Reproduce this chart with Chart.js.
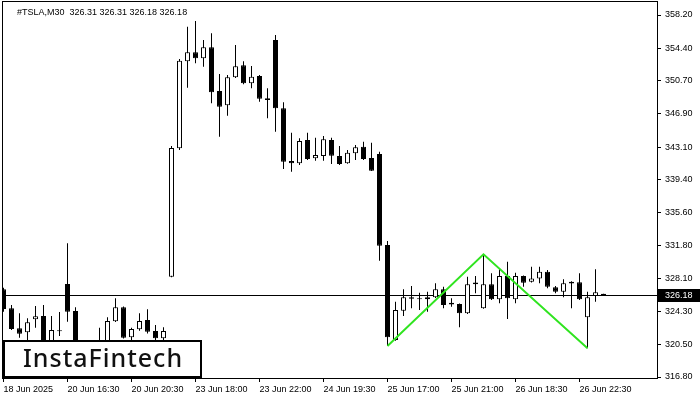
<!DOCTYPE html>
<html>
<head>
<meta charset="utf-8">
<script src="https://cdn.jsdelivr.net/npm/chart.js@4.4.1/dist/chart.umd.min.js"></script>
<style>
  html, body { margin: 0; padding: 0; background: #fff; }
  canvas { display: block; }
</style>
</head>
<body>
<canvas id="chart" width="700" height="400"></canvas>
<script>
// Datos de velas M30
const symbolTitle = '#TSLA,M30  326.31 326.31 326.18 326.18';
const opens = [326.83, 324.66, 322.37, 321.91, 323.40, 323.77, 320.80, 322.06, 327.43, 324.35,
  320.70, 320.00, 320.50, 320.80, 323.17, 324.77, 321.34, 322.25, 323.32, 322.06,
  321.22, 328.27, 342.96, 352.90, 353.93, 353.25, 354.51, 349.51, 347.87, 351.07,
  352.45, 350.39, 351.22, 348.67, 355.34, 347.53, 341.50, 341.24, 343.90, 341.81,
  342.07, 343.90, 342.07, 341.24, 342.38, 343.14, 341.84, 342.30, 331.89, 321.03,
  324.38, 325.91, 325.75, 325.68, 325.91, 326.83, 325.29, 325.15, 324.08, 327.60,
  324.66, 327.40, 325.68, 328.35, 325.68, 328.35, 327.70, 328.08, 328.84, 327.06,
  326.55, 327.50, 327.63, 323.63, 326.06, 326.31];
const highs = [327.00, 325.03, 324.08, 323.51, 324.92, 325.03, 323.77, 324.23, 332.09, 324.77,
  320.90, 320.80, 322.44, 323.63, 325.80, 324.85, 322.44, 324.08, 324.54, 322.75,
  322.48, 343.22, 353.17, 356.86, 357.51, 355.34, 356.11, 351.45, 351.34, 354.77,
  352.90, 352.37, 351.34, 349.82, 355.91, 348.22, 344.74, 344.10, 344.74, 344.17,
  344.36, 344.17, 343.22, 342.76, 343.33, 343.71, 343.59, 342.56, 332.35, 325.41,
  326.83, 327.21, 326.44, 326.55, 327.51, 327.13, 325.80, 325.20, 328.27, 328.35,
  330.83, 328.66, 329.23, 329.99, 328.73, 328.40, 329.41, 329.41, 329.04, 327.20,
  327.97, 327.75, 328.66, 326.55, 329.11, 326.31];
const lows = [324.27, 322.18, 321.29, 320.80, 322.44, 320.60, 320.50, 321.49, 323.12, 320.40,
  319.60, 319.40, 320.00, 320.50, 323.10, 321.20, 320.90, 322.09, 321.79, 320.90,
  320.90, 328.20, 342.76, 349.89, 352.68, 352.29, 348.10, 344.28, 346.68, 351.00,
  350.27, 349.82, 348.28, 346.39, 344.85, 340.59, 340.28, 341.04, 341.62, 341.54,
  341.54, 341.16, 341.04, 341.20, 341.62, 341.62, 340.35, 330.10, 320.35, 320.95,
  323.77, 324.66, 324.46, 324.27, 325.85, 324.66, 324.84, 322.48, 324.00, 326.37,
  324.60, 325.60, 325.23, 323.43, 325.23, 327.13, 327.60, 327.51, 326.94, 326.37,
  325.91, 324.66, 325.60, 320.08, 325.41, 326.18];
const closes = [324.58, 322.29, 321.75, 323.05, 323.74, 320.90, 322.17, 322.02, 324.27, 320.70,
  320.00, 320.50, 320.80, 323.20, 324.77, 321.29, 322.29, 323.20, 321.98, 321.22,
  322.06, 342.99, 352.97, 353.93, 353.25, 354.51, 349.36, 347.71, 351.07, 352.33,
  350.39, 351.14, 348.63, 348.48, 347.53, 341.42, 341.24, 343.79, 341.73, 342.19,
  343.98, 342.11, 341.16, 342.45, 343.07, 341.73, 340.39, 331.81, 321.34, 324.46,
  325.91, 325.75, 325.70, 325.91, 326.83, 325.03, 325.10, 324.08, 327.40, 327.40,
  327.40, 325.68, 328.35, 325.80, 328.35, 327.58, 328.08, 328.84, 327.13, 326.55,
  327.51, 327.70, 325.68, 325.91, 326.49, 326.18];

const priceTicks = [358.2, 354.4, 350.7, 346.9, 343.1, 339.4, 335.6, 331.8, 328.1, 324.3, 320.5, 316.8];
const timeLabels = ['18 Jun 2025', '20 Jun 16:30', '20 Jun 20:30', '23 Jun 18:00', '23 Jun 22:00',
  '24 Jun 19:30', '25 Jun 17:00', '25 Jun 21:00', '26 Jun 18:30', '26 Jun 22:30'];
const timeTickBars = [0, 8, 16, 24, 32, 40, 48, 56, 64, 72];

// Figura verde (zigzag)
const patternBars = [48, 60, 73];
const patternPrices = [320.35, 330.83, 320.08];
const lastPrice = 326.18;

const axisFont = { family: 'Liberation Sans', size: 9 };

const wickData = lows.map((l, i) => ({ x: i, y: [l, highs[i]] }));
const bodyData = opens.map((o, i) => ({ x: i, y: [Math.min(o, closes[i]), Math.max(o, closes[i])] }));
const bodyColors = opens.map((o, i) => closes[i] > o ? '#ffffff' : '#000000');

const overlay = {
    id: 'overlay',
    beforeDatasetsDraw(chart) {
        const { ctx, chartArea, scales } = chart;
        const y = Math.round(scales.y.getPixelForValue(lastPrice)) + 0.5;
        ctx.save();
        ctx.strokeStyle = '#000';
        ctx.lineWidth = 1;
        ctx.beginPath();
        ctx.moveTo(chartArea.left, y);
        ctx.lineTo(chartArea.right, y);
        ctx.stroke();
        ctx.restore();
    },
    afterDraw(chart) {
        const { ctx, chartArea, scales } = chart;
        ctx.save();
        // marco
        ctx.strokeStyle = '#000';
        ctx.lineWidth = 1;
        ctx.strokeRect(chartArea.left - 0.5, chartArea.top - 0.5,
            chartArea.right - chartArea.left + 1, chartArea.bottom - chartArea.top + 1);

        // etiqueta del precio actual
        const py = Math.round(scales.y.getPixelForValue(lastPrice));
        ctx.fillStyle = '#000';
        ctx.fillRect(chartArea.right + 1, py - 6, 42, 13);
        ctx.fillStyle = '#fff';
        ctx.font = '9px "Liberation Sans"';
        ctx.textBaseline = 'middle';
        ctx.fillText(lastPrice.toFixed(2), chartArea.right + 8, py + 0.5);

        // título
        ctx.fillStyle = '#000';
        ctx.textBaseline = 'alphabetic';
        ctx.fillText(symbolTitle, 17, 15);

        // logo
        ctx.fillStyle = '#fff';
        ctx.fillRect(3, 340, 199, 38);
        ctx.strokeStyle = '#000';
        ctx.lineWidth = 2;
        ctx.strokeRect(4, 341, 197, 36);
        ctx.fillStyle = '#111';
        ctx.font = '500 25px "Noto Sans"';
        const w = ctx.measureText('InstaFintech').width;
        ctx.letterSpacing = ((159 - w) / 11).toFixed(2) + 'px';
        ctx.textBaseline = 'alphabetic';
        ctx.fillText('InstaFintech', 23, 367);
        ctx.restore();
    }
};

new Chart(document.getElementById('chart'), {
    type: 'bar',
    data: {
        datasets: [{
            type: 'line',
            data: patternBars.map((b, i) => ({ x: b, y: patternPrices[i] })),
            borderColor: 'rgb(48, 228, 32)',
            borderWidth: 2,
            pointRadius: 0,
            fill: false,
            tension: 0,
            order: 0
        }, {
            data: bodyData,
            backgroundColor: bodyColors,
            borderColor: '#000',
            borderWidth: 1,
            borderSkipped: false,
            barThickness: 5,
            minBarLength: 1,
            inflateAmount: 0,
            grouped: false,
            order: 1
        }, {
            data: wickData,
            backgroundColor: '#000',
            borderWidth: 0,
            barThickness: 1,
            inflateAmount: 0,
            grouped: false,
            order: 2
        }]
    },
    options: {
        responsive: false,
        animation: false,
        events: [],
        layout: { padding: { left: 3, top: 2, right: 0, bottom: 0 } },
        plugins: { legend: { display: false }, tooltip: { enabled: false } },
        scales: {
            x: {
                type: 'linear',
                offset: false,
                min: -0.0625,
                max: 81.6875,
                afterBuildTicks: s => { s.ticks = timeTickBars.map(v => ({ value: v })); },
                afterFit: s => { s.height = 22; s.paddingLeft = 0; s.paddingRight = 0; },
                ticks: {
                    autoSkip: false, maxRotation: 0, align: 'start', padding: 2,
                    color: '#000', font: axisFont,
                    callback: (v, i) => timeLabels[i]
                },
                grid: { offset: false, drawOnChartArea: false, tickLength: 4, color: '#000' },
                border: { display: false }
            },
            y: {
                type: 'linear',
                position: 'right',
                min: 316.687,
                max: 359.687,
                afterBuildTicks: s => { s.ticks = priceTicks.map(v => ({ value: v })); },
                afterFit: s => { s.width = 43; s.paddingTop = 0; s.paddingBottom = 0; },
                ticks: {
                    padding: 4, color: '#000', font: axisFont,
                    callback: v => v.toFixed(2)
                },
                grid: { drawOnChartArea: false, tickLength: 4, color: '#000' },
                border: { display: false }
            }
        }
    },
    plugins: [overlay]
});
</script>
</body>
</html>
